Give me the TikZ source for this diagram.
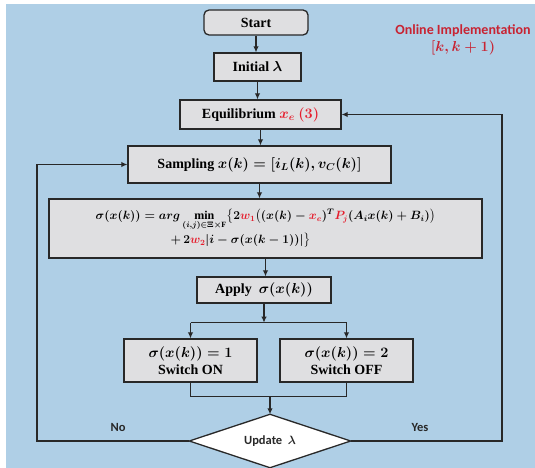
\documentclass[tikz,border=0pt]{standalone}
\usepackage{amsmath}
\usepackage{fontspec}
\setmainfont{Liberation Serif}
\newfontfamily\carl{Carlito}
\usetikzlibrary{arrows.meta,calc}
\definecolor{bgblue}{RGB}{175,207,230}
\definecolor{boxgray}{RGB}{223,223,225}
\definecolor{mred}{RGB}{230,30,45}
\definecolor{ored}{RGB}{200,35,50}
\definecolor{edge}{RGB}{40,40,40}
\begin{document}
\begin{tikzpicture}[x=1pt,y=-1pt,
  every node/.style={font=\fontsize{14}{17}\selectfont\bfseries\boldmath},
  box/.style={draw=edge, line width=1.3pt, fill=boxgray, inner sep=0pt, anchor=center},
  arr/.style={draw=edge, line width=1.6pt, -{Latex[length=6pt,width=5.5pt]}},
  ln/.style={draw=edge, line width=1.6pt},
  lab/.style={font=\fontsize{12.5}{15}\selectfont\carl\bfseries\boldmath, text=edge}]
\useasboundingbox[fill=white] (0,0) rectangle (535,468);
\fill[bgblue] (6,4) rectangle (535,468);

\node[box, rounded corners=5pt, minimum width=104, minimum height=25] (start) at (256,22.5) {Start};
\node[box, minimum width=87, minimum height=28] (init) at (257.5,67) {Initial $\lambda$};
\node[box, minimum width=161, minimum height=29] (equil) at (260.5,114.5) {Equilibrium $\color{mred}x_e\ (3)$};
\node[box, minimum width=263, minimum height=37] (samp) at (259.5,164.5) {Sampling $x(k)=[i_L(k),v_C(k)]$};
\node[box, minimum width=433, minimum height=59, align=center, font=\fontsize{12}{14.5}\selectfont\bfseries\boldmath] (form) at (265.5,228.5)
  {$\sigma(x(k))=arg\min\limits_{(i,j)\in\Xi\times\mathrm{F}}\!\big\{2{\color{mred}w_1}\big((x(k)-{\color{mred}x_e})^{T}{\color{mred}P_j}(A_ix(k)+B_i)\big)$\\[2pt]
   $+\,2{\color{mred}w_2}\lvert i-\sigma(x(k-1))\rvert\big\}$\hspace*{50pt}};
\node[box, minimum width=134, minimum height=26] (apply) at (264,290) {Apply\ \ $\sigma(x(k))$};
\node[box, minimum width=133, minimum height=43, align=center] (on) at (190.5,360.5) {$\sigma(x(k))=1$\\ Switch ON};
\node[box, minimum width=133, minimum height=43, align=center] (off) at (346.5,360.5) {$\sigma(x(k))=2$\\ Switch OFF};

\node[inner sep=0, minimum width=161, minimum height=53, lab] (upd) at (270,441) {};
\draw[draw=edge, line width=1.3pt, fill=white] (upd.west) -- (upd.north) -- (upd.east) -- (upd.south) -- cycle;
\node[lab] (updtext) at (upd) {Update\ \ $\lambda$};

\node[lab] (no) at (118,427) {No};
\node[lab] (yes) at (420,427) {Yes};

\node[font=\fontsize{14}{17}\selectfont\carl\bfseries\boldmath, text=ored, align=center] (online) at (463,40)
  {Online Implementation\\ $[k,k+1)$};

\draw[arr] (start.south) -- (start.south |- init.north);
\draw[arr] (init.south) -- (init.south |- equil.north);
\draw[arr] (equil.south) -- (equil.south |- samp.north);
\draw[arr] (samp.south) -- (samp.south |- form.north);
\draw[arr] (form.south) -- (form.south |- apply.north);
\draw[arr] (apply.south) -- ++(0,19) coordinate (split);
\draw[ln] (on.north |- split) -- (off.north |- split);
\draw[arr] (on.north |- split) -- (on.north);
\draw[arr] (off.north |- split) -- (off.north);
\coordinate (mg) at ($(on.south)!0.5!(off.south)+(0,14)$);
\draw[ln] (on.south) |- ($(off.south)+(0,14)$) -- (off.south);
\draw[arr] (mg -| upd.north) -- (upd.north);
\draw[arr] (upd.west) -- ++(-152.5,0) |- (samp.west);
\draw[arr] (upd.east) -- ++(151.5,0) |- (equil.east);
\end{tikzpicture}
\end{document}
